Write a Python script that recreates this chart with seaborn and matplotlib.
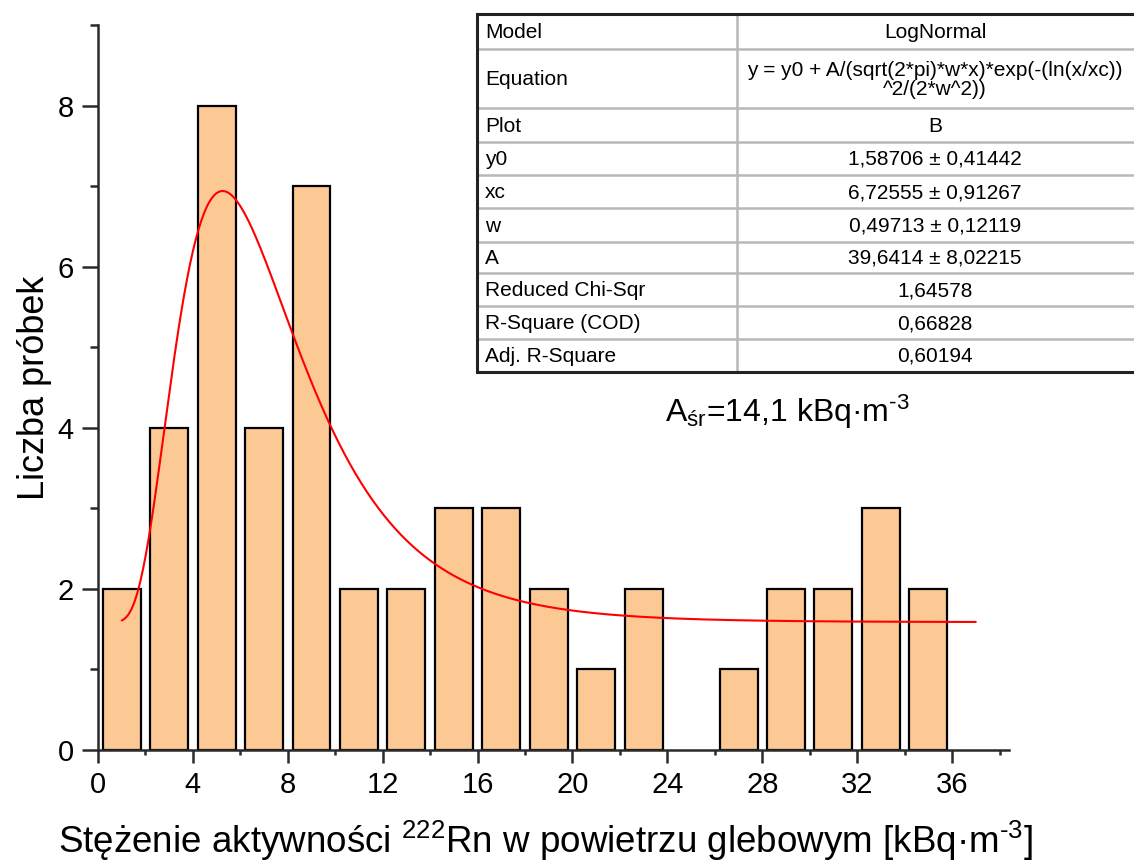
import numpy as np
import pandas as pd
import matplotlib
matplotlib.use("Agg")
import matplotlib.pyplot as plt
import seaborn as sns
from matplotlib.ticker import MultipleLocator
from matplotlib.patches import Rectangle

# ---------------- data ----------------
bin_centers = [1, 3, 5, 7, 9, 11, 13, 15, 17, 19, 21, 23, 25, 27, 29, 31, 33, 35]
counts = [2, 4, 8, 4, 7, 2, 2, 3, 3, 2, 1, 2, 0, 1, 2, 2, 3, 2]
x_ticks = [0, 4, 8, 12, 16, 20, 24, 28, 32, 36]
y_ticks = [0, 2, 4, 6, 8]

# LogNormal fit parameters (from the fit table)
fit_y0 = 1.58706
fit_xc = 6.72555
fit_w = 0.49713
fit_A = 39.6414
fit_range = (1.0, 37.0)

table_labels = ["Model", "Equation", "Plot", "y0", "xc", "w", "A",
                "Reduced Chi-Sqr", "R-Square (COD)", "Adj. R-Square"]
table_values = ["LogNormal",
                "y = y0 + A/(sqrt(2*pi)*w*x)*exp(-(ln(x/xc))\n^2/(2*w^2))",
                "B",
                "1,58706 ± 0,41442",
                "6,72555 ± 0,91267",
                "0,49713 ± 0,12119",
                "39,6414 ± 8,02215",
                "1,64578",
                "0,66828",
                "0,60194"]

x_label = "Stężenie aktywności $^{222}$Rn w powietrzu glebowym [kBq·m$^{\u2010 3}$]"
y_label = "Liczba próbek"
mean_note = "A$_{\\mathrm{śr}}$=14,1 kBq·m$^{\u2010 3}$"

# ---------------- style ----------------
sns.set_theme(style="ticks")
plt.rcParams["font.family"] = ["Liberation Sans", "DejaVu Sans"]
plt.rcParams["mathtext.fontset"] = "custom"
plt.rcParams["mathtext.rm"] = "Liberation Sans"
plt.rcParams["mathtext.it"] = "Liberation Sans:italic"
plt.rcParams["mathtext.bf"] = "Liberation Sans:bold"
plt.rcParams["mathtext.default"] = "regular"

bar_color = "#FCC995"
spine_color = "#2a2a2a"

W, H = 1134, 866
fig = plt.figure(figsize=(W / 100, H / 100), dpi=100)
fig.patch.set_facecolor("white")

ax = fig.add_axes([98 / W, 1 - 750 / H, (1009 - 98) / W, (750 - 25) / H])
ax.set_facecolor("white")

df = pd.DataFrame({"x": bin_centers, "n": counts})
df = df[df["n"] > 0]
sns.barplot(data=df, x="x", y="n", native_scale=True, width=0.8,
            color=bar_color, saturation=1, edgecolor="black",
            linewidth=1.6, ax=ax, zorder=2)

xs = np.linspace(fit_range[0], fit_range[1], 600)
ys = fit_y0 + fit_A / (np.sqrt(2 * np.pi) * fit_w * xs) * np.exp(
    -(np.log(xs / fit_xc)) ** 2 / (2 * fit_w ** 2))
sns.lineplot(x=xs, y=ys, color="red", linewidth=1.5, estimator=None,
             sort=False, ax=ax, zorder=3)

ax.set_xlim(0, 38.4)
ax.set_ylim(0, 9)
ax.set_xticks(x_ticks)
ax.set_yticks(y_ticks)
ax.xaxis.set_minor_locator(MultipleLocator(2))
ax.yaxis.set_minor_locator(MultipleLocator(1))

for s in ["top", "right"]:
    ax.spines[s].set_visible(False)
for s in ["left", "bottom"]:
    ax.spines[s].set_color(spine_color)
    ax.spines[s].set_linewidth(1.8)

ax.tick_params(axis="x", which="major", direction="out", length=9, width=1.8,
               color=spine_color, labelsize=21, pad=6, labelcolor="black")
ax.tick_params(axis="x", which="minor", direction="out", length=3.5, width=1.8,
               color=spine_color)
ax.tick_params(axis="y", which="major", direction="out", length=11.5, width=1.8,
               color=spine_color, labelsize=21, pad=6, labelcolor="black")
ax.tick_params(axis="y", which="minor", direction="out", length=6, width=1.8,
               color=spine_color)

ax.set_xlabel(x_label, fontsize=26.5, color="black")
ax.set_ylabel(y_label, fontsize=26, color="black")
ax.xaxis.set_label_coords((545 - 98) / 911, (750 - 819) / 725)
ax.yaxis.set_label_coords((52 - 98) / 911, 0.5)
ax.grid(False)

# ---------------- overlay: fit table and mean note ----------------
tax = fig.add_axes([0, 0, 1, 1], zorder=5)
tax.set_xlim(0, W)
tax.set_ylim(H, 0)
tax.axis("off")

row_edges = [14, 49.3, 108.3, 141.7, 175, 208.3, 241.7, 273.3, 306, 339.3, 371.7]
t_left, t_div, t_right = 477, 737, 1136

tax.add_patch(Rectangle((t_left, row_edges[0]), t_right - t_left,
                        row_edges[-1] - row_edges[0], facecolor="white",
                        edgecolor="none", zorder=1))
for yy in row_edges[1:-1]:
    tax.plot([t_left, t_right], [yy, yy], color="#b8b8b8", lw=1.8, zorder=2,
             solid_capstyle="butt")
tax.plot([t_div, t_div], [row_edges[0], row_edges[-1]], color="#b8b8b8",
         lw=1.8, zorder=2)
tax.plot([t_left, t_right], [row_edges[0], row_edges[0]], color="#222222",
         lw=2.2, zorder=3)
tax.plot([t_left, t_right], [row_edges[-1], row_edges[-1]], color="#222222",
         lw=2.2, zorder=3)
tax.plot([t_left, t_left], [row_edges[0], row_edges[-1]], color="#222222",
         lw=2.2, zorder=3, solid_capstyle="projecting")

for i, (lab, val) in enumerate(zip(table_labels, table_values)):
    yc = (row_edges[i] + row_edges[i + 1]) / 2
    tax.text(485, yc + 1, lab, ha="left", va="center", fontsize=15,
             color="black", zorder=4)
    tax.text((t_div + 1133) / 2, yc + 1, val, ha="center", va="center",
             fontsize=15, color="black", linespacing=1.0, zorder=4)

tax.text(665, 412, mean_note, ha="left", va="center", fontsize=23,
         color="black", zorder=4)

fig.savefig("out.png", dpi=100, facecolor="white")
